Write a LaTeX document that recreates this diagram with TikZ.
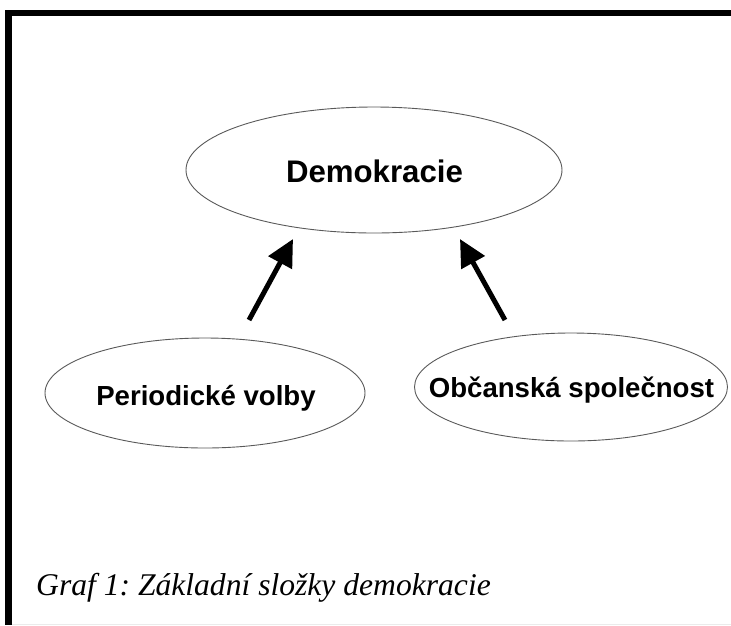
\documentclass[tikz,border=0pt]{standalone}
\usepackage{fontspec}
\setmainfont{Liberation Serif}
\newfontfamily\labelfont{Liberation Sans}
\usetikzlibrary{shapes.geometric,arrows.meta}
\begin{document}
\frenchspacing
\begin{tikzpicture}[x=1pt,y=-1pt,
  bubble/.style={ellipse,draw=black!65,line width=0.9pt,inner sep=0pt},
  bubbletext/.style={anchor=base,inner sep=0pt,
    font=\labelfont\bfseries\fontsize{27.6}{27.6}\selectfont},
  bigarrow/.style={line width=5pt,-{Triangle[length=27pt,width=26pt]}}]
  \useasboundingbox (0,0) rectangle (731,625);
  % frame: heavy top and left rules, faint bottom rule
  \fill[black] (5,9.5) rectangle (731,16);
  \fill[black] (5,9.5) rectangle (12,625);
  \draw[black!8,line width=1pt] (12,624) -- (731,624);
  % the three concepts
  \node[bubble,minimum width=376pt,minimum height=126pt] (dem) at (374,170) {};
  \node[bubble,minimum width=320pt,minimum height=110pt] (volby) at (205,393) {};
  \node[bubble,minimum width=313pt,minimum height=108pt] (spol) at (571,387) {};
  \node[bubbletext,font=\labelfont\bfseries\fontsize{31.2}{31.2}\selectfont] (demt) at (374.5,182) {Demokracie};
  \node[bubbletext] (volbyt) at (206,405) {Periodické volby};
  \node[bubbletext] (spolt) at (571.5,397) {Občanská společnost};
  % arrows pointing up to the main concept
  \coordinate (a1s) at (249,320);
  \coordinate (a1e) at (293,239);
  \coordinate (a2s) at (505,320);
  \coordinate (a2e) at (460,239);
  \draw[bigarrow] (a1s) -- (a1e);
  \draw[bigarrow] (a2s) -- (a2e);
  % caption
  \node[anchor=base west,inner sep=0pt,font=\itshape\fontsize{31.6}{31.6}\selectfont] (cap) at (36,595) {Graf 1: Základní složky demokracie};
\end{tikzpicture}
\end{document}
